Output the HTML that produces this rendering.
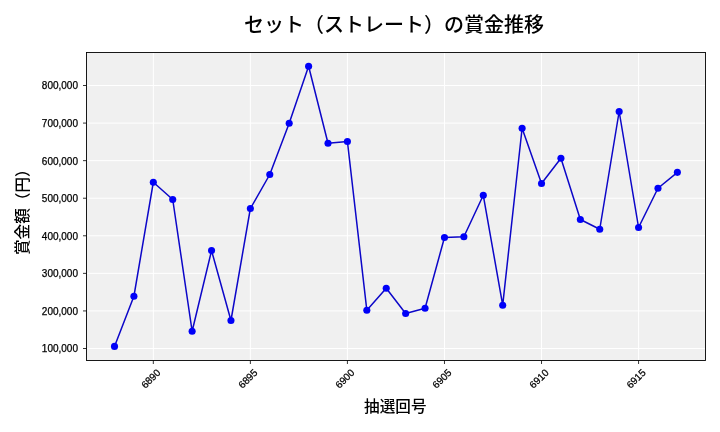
<!DOCTYPE html>
<html lang="ja"><head><meta charset="utf-8"><title>セット（ストレート）の賞金推移</title>
<style>html,body{margin:0;padding:0;background:#fff}body{width:720px;height:432px;overflow:hidden}svg{display:block}text{font-family:"Liberation Sans", "Noto Sans CJK JP", sans-serif;fill:#000}.tk{stroke:#000;stroke-width:0.25px}</style></head><body>
<svg width="720" height="432" viewBox="0 0 720 432">
<rect x="0" y="0" width="720" height="432" fill="#ffffff"/>
<rect x="86.50" y="52.50" width="619.00" height="308.00" fill="#f0f0f0"/>
<path d="M153.32 52.50V360.50M250.37 52.50V360.50M347.42 52.50V360.50M444.47 52.50V360.50M541.52 52.50V360.50M638.57 52.50V360.50M86.50 348.50H705.50M86.50 310.93H705.50M86.50 273.36H705.50M86.50 235.79H705.50M86.50 198.22H705.50M86.50 160.65H705.50M86.50 123.08H705.50M86.50 85.51H705.50" stroke="#ffffff" stroke-width="1" fill="none"/>
<polyline points="114.50,346.40 133.91,296.25 153.32,182.25 172.73,199.50 192.14,331.25 211.55,250.60 230.96,320.50 250.37,208.50 269.78,174.50 289.19,123.25 308.60,66.30 328.01,143.25 347.42,141.50 366.83,310.25 386.24,288.25 405.65,313.50 425.06,308.25 444.47,237.50 463.88,236.75 483.29,195.30 502.70,305.20 522.11,128.25 541.52,183.50 560.93,158.25 580.34,219.50 599.75,229.25 619.16,111.50 638.57,227.50 657.98,188.25 677.39,172.33" fill="none" stroke="#0c06c8" stroke-width="1.5" stroke-linejoin="round"/>
<circle cx="114.50" cy="346.40" r="3.55" fill="#0000f8"/>
<circle cx="133.91" cy="296.25" r="3.55" fill="#0000f8"/>
<circle cx="153.32" cy="182.25" r="3.55" fill="#0000f8"/>
<circle cx="172.73" cy="199.50" r="3.55" fill="#0000f8"/>
<circle cx="192.14" cy="331.25" r="3.55" fill="#0000f8"/>
<circle cx="211.55" cy="250.60" r="3.55" fill="#0000f8"/>
<circle cx="230.96" cy="320.50" r="3.55" fill="#0000f8"/>
<circle cx="250.37" cy="208.50" r="3.55" fill="#0000f8"/>
<circle cx="269.78" cy="174.50" r="3.55" fill="#0000f8"/>
<circle cx="289.19" cy="123.25" r="3.55" fill="#0000f8"/>
<circle cx="308.60" cy="66.30" r="3.55" fill="#0000f8"/>
<circle cx="328.01" cy="143.25" r="3.55" fill="#0000f8"/>
<circle cx="347.42" cy="141.50" r="3.55" fill="#0000f8"/>
<circle cx="366.83" cy="310.25" r="3.55" fill="#0000f8"/>
<circle cx="386.24" cy="288.25" r="3.55" fill="#0000f8"/>
<circle cx="405.65" cy="313.50" r="3.55" fill="#0000f8"/>
<circle cx="425.06" cy="308.25" r="3.55" fill="#0000f8"/>
<circle cx="444.47" cy="237.50" r="3.55" fill="#0000f8"/>
<circle cx="463.88" cy="236.75" r="3.55" fill="#0000f8"/>
<circle cx="483.29" cy="195.30" r="3.55" fill="#0000f8"/>
<circle cx="502.70" cy="305.20" r="3.55" fill="#0000f8"/>
<circle cx="522.11" cy="128.25" r="3.55" fill="#0000f8"/>
<circle cx="541.52" cy="183.50" r="3.55" fill="#0000f8"/>
<circle cx="560.93" cy="158.25" r="3.55" fill="#0000f8"/>
<circle cx="580.34" cy="219.50" r="3.55" fill="#0000f8"/>
<circle cx="599.75" cy="229.25" r="3.55" fill="#0000f8"/>
<circle cx="619.16" cy="111.50" r="3.55" fill="#0000f8"/>
<circle cx="638.57" cy="227.50" r="3.55" fill="#0000f8"/>
<circle cx="657.98" cy="188.25" r="3.55" fill="#0000f8"/>
<circle cx="677.39" cy="172.33" r="3.55" fill="#0000f8"/>
<rect x="86.50" y="52.50" width="619.00" height="308.00" fill="none" stroke="#000" stroke-width="0.9"/>
<path d="M153.32 360.50v3.5M250.37 360.50v3.5M347.42 360.50v3.5M444.47 360.50v3.5M541.52 360.50v3.5M638.57 360.50v3.5M86.50 348.50h-3.5M86.50 310.93h-3.5M86.50 273.36h-3.5M86.50 235.79h-3.5M86.50 198.22h-3.5M86.50 160.65h-3.5M86.50 123.08h-3.5M86.50 85.51h-3.5" stroke="#000" stroke-width="0.8" fill="none"/>
<text x="78.00" y="352.40" class="tk" font-size="10" text-anchor="end">100,000</text>
<text x="78.00" y="314.83" class="tk" font-size="10" text-anchor="end">200,000</text>
<text x="78.00" y="277.26" class="tk" font-size="10" text-anchor="end">300,000</text>
<text x="78.00" y="239.69" class="tk" font-size="10" text-anchor="end">400,000</text>
<text x="78.00" y="202.12" class="tk" font-size="10" text-anchor="end">500,000</text>
<text x="78.00" y="164.55" class="tk" font-size="10" text-anchor="end">600,000</text>
<text x="78.00" y="126.98" class="tk" font-size="10" text-anchor="end">700,000</text>
<text x="78.00" y="89.41" class="tk" font-size="10" text-anchor="end">800,000</text>
<text transform="translate(150.72 378.60) rotate(-45)" class="tk" font-size="10" text-anchor="middle" y="3.6">6890</text>
<text transform="translate(247.77 378.60) rotate(-45)" class="tk" font-size="10" text-anchor="middle" y="3.6">6895</text>
<text transform="translate(344.82 378.60) rotate(-45)" class="tk" font-size="10" text-anchor="middle" y="3.6">6900</text>
<text transform="translate(441.87 378.60) rotate(-45)" class="tk" font-size="10" text-anchor="middle" y="3.6">6905</text>
<text transform="translate(538.92 378.60) rotate(-45)" class="tk" font-size="10" text-anchor="middle" y="3.6">6910</text>
<text transform="translate(635.97 378.60) rotate(-45)" class="tk" font-size="10" text-anchor="middle" y="3.6">6915</text>
<text x="394.00" y="32" font-size="20" font-weight="500" text-anchor="middle">セット（ストレート）の賞金推移</text>
<text x="395.30" y="412.2" font-size="15.6" font-weight="500" text-anchor="middle">抽選回号</text>
<text transform="translate(27.5 208.20) rotate(-90)" font-size="15.6" font-weight="500" text-anchor="middle">賞金額（円）</text>
</svg></body></html>
